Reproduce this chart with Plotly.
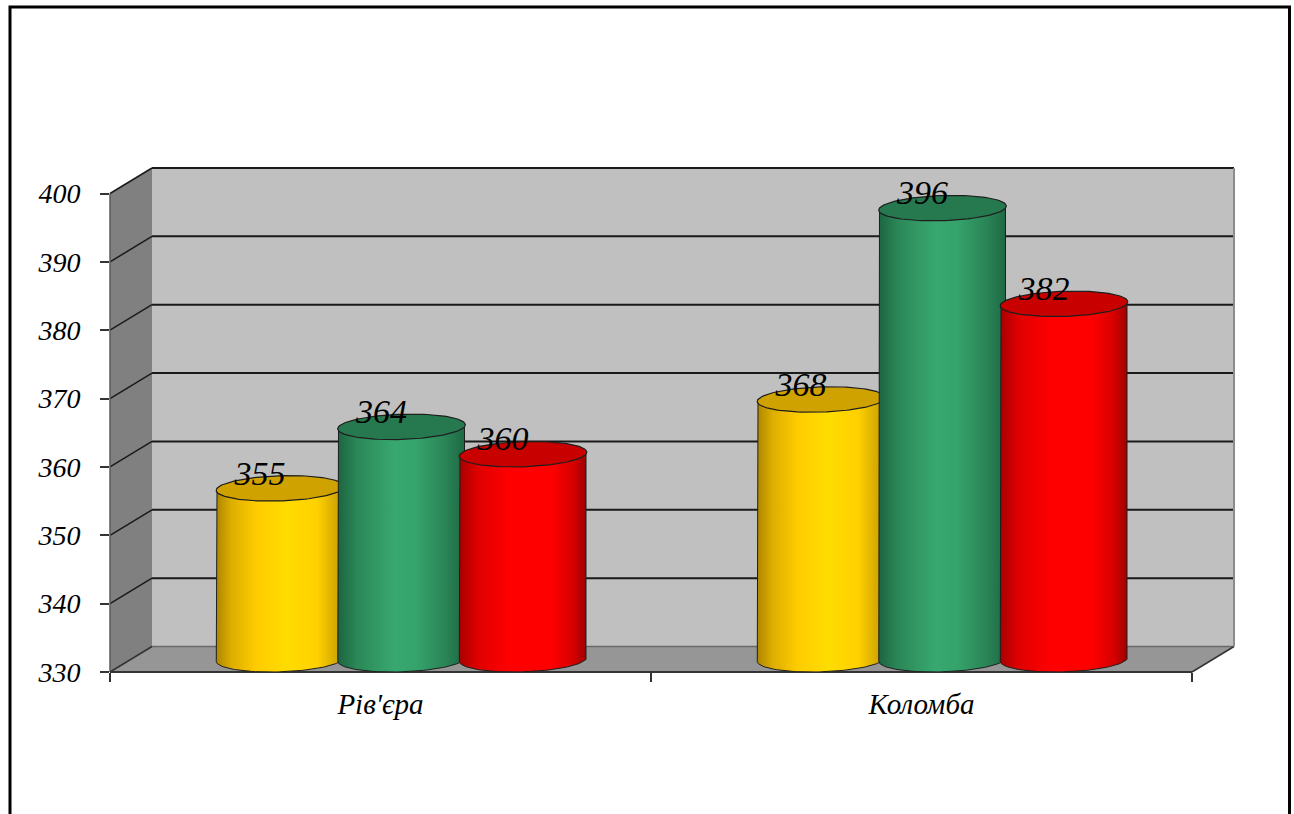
import numpy as np
import plotly.graph_objects as go

# ---------------- data ----------------
categories = ["Рів'єра", "Коломба"]
series_names = ["Ряд 1", "Ряд 2", "Ряд 3"]
values_yellow = [355, 368]
values_green = [364, 396]
values_red = [360, 382]
y_ticks = [330, 340, 350, 360, 370, 380, 390, 400]

# ---------------- geometry / styling ----------------
W, H = 1294, 814
L, R, T, B = 110, 61, 168, 142
plot_w = W - L - R
plot_h = H - T - B
cat_px = 541.0
unit_px = (672 - 193.5) / 70.0
y_min = 330.0
y_max = y_min + plot_h / unit_px
x_min = -0.5
x_max = x_min + plot_w / cat_px
DX = 42 / cat_px          # depth offset in x units
DY = 25.5 / unit_px       # depth offset in y units
SP = 121.5 / cat_px       # spacing between cylinders
BW = 126 / cat_px         # cylinder width
SHEAR = 10 / cat_px

FONT = "Liberation Serif"

def px(xd):
    return (xd - x_min) / (x_max - x_min)

def py(yd):
    return (yd - y_min) / (y_max - y_min)

def path(pts):
    return "M " + " L ".join(f"{px(x):.5f},{py(y):.5f}" for x, y in pts) + " Z"

def line_path(p0, p1):
    return f"M {px(p0[0]):.5f},{py(p0[1]):.5f} L {px(p1[0]):.5f},{py(p1[1]):.5f}"

shapes = []
x_lo, x_hi = -0.5, 1.5
# side wall
shapes.append(dict(type="path", xref="paper", yref="paper", layer="below",
                   path=path([(x_lo, 330), (x_lo + DX, 330 + DY), (x_lo + DX, 400 + DY), (x_lo, 400)]),
                   fillcolor="#808080", line=dict(width=0)))
# back wall
shapes.append(dict(type="path", xref="paper", yref="paper", layer="below",
                   path=path([(x_lo + DX, 330 + DY), (x_hi + DX, 330 + DY), (x_hi + DX, 400 + DY), (x_lo + DX, 400 + DY)]),
                   fillcolor="#C0C0C0", line=dict(width=0)))
# floor
shapes.append(dict(type="path", xref="paper", yref="paper", layer="below",
                   path=path([(x_lo, 330), (x_hi, 330), (x_hi + DX, 330 + DY), (x_lo + DX, 330 + DY)]),
                   fillcolor="#969696", line=dict(width=0)))
# gridlines
for v in y_ticks[1:]:
    shapes.append(dict(type="path", xref="paper", yref="paper", layer="below",
                       path=line_path((x_lo + DX, v + DY), (x_hi + DX, v + DY)),
                       line=dict(color="#1a1a1a", width=2)))
    shapes.append(dict(type="path", xref="paper", yref="paper", layer="below",
                       path=line_path((x_lo, v), (x_lo + DX, v + DY)),
                       line=dict(color="#1a1a1a", width=1.5)))
# edges
edge_specs = [
    (((x_lo + DX, 330 + DY), (x_hi + DX, 330 + DY)), "#6a6a6a", 1.5),
    (((x_hi, 330), (x_hi + DX, 330 + DY)), "#333333", 1.5),
    (((x_lo, 330), (x_lo + DX, 330 + DY)), "#333333", 1.5),
    (((x_hi + DX, 330 + DY), (x_hi + DX, 400 + DY)), "#8c8c8c", 2),
    (((x_lo, 330), (x_lo, 400)), "#5a5a5a", 1.5),
    (((x_lo, 330), (x_hi, 330)), "#333333", 2),
]
for (p0, p1), col, wd in edge_specs:
    shapes.append(dict(type="path", xref="paper", yref="paper", layer="below",
                       path=line_path(p0, p1), line=dict(color=col, width=wd)))
# outer frame
shapes.append(dict(type="rect", xref="paper", yref="paper", layer="above",
                   x0=(10 - L) / plot_w, x1=(1289.5 - L) / plot_w,
                   y0=(T + plot_h - 7) / plot_h, y1=(T + plot_h - 840) / plot_h,
                   line=dict(color="black", width=3), fillcolor="rgba(0,0,0,0)"))

series = [
    (series_names[0], values_yellow,
     [[0, "#AE8600"], [0.12, "#DDAE00"], [0.32, "#FFCC00"], [0.55, "#FFDC00"], [0.8, "#FFD000"], [1, "#C49A00"]],
     "#D0A200", "#FFD200"),
    (series_names[1], values_green,
     [[0, "#1C6440"], [0.15, "#2B8757"], [0.45, "#38A870"], [0.62, "#35A36B"], [0.85, "#2A8456"], [1, "#1E6943"]],
     "#26794F", "#34A06A"),
    (series_names[2], values_red,
     [[0, "#A80000"], [0.15, "#E00000"], [0.4, "#FF0000"], [0.72, "#FF0000"], [0.9, "#D60000"], [1, "#9C0000"]],
     "#C80000", "#FF0000"),
]

fig = go.Figure()
base = 330 + DY / 2
b = DY / 2
a = BW / 2
x_idx = np.arange(len(categories))

# bars (bodies) through the library's bar mechanism
for j, (name, vals, cs, topc, midc) in enumerate(series):
    off = DX / 2 + (j - 1) * SP - BW / 2
    fig.add_trace(go.Bar(
        x=x_idx, y=[v - 330 for v in vals], base=base, width=BW, offset=off,
        name=name, marker=dict(color=midc, line=dict(width=0)),
        customdata=vals, hovertemplate="%{customdata}<extra>" + name + "</extra>",
        showlegend=False))

t_bot = np.linspace(np.pi, 2 * np.pi, 60)
t_all = np.linspace(0, 2 * np.pi, 120)
for j, (name, vals, cs, topc, midc) in enumerate(series):
    for c, v in enumerate(vals):
        cx = c + DX / 2 + (j - 1) * SP
        top = v + DY / 2
        xs = [cx - a, cx - a] + list(cx + a * np.cos(t_bot) + SHEAR * np.sin(t_bot)) + [cx + a, cx - a]
        ys = [top, base] + list(base + b * np.sin(t_bot)) + [top, top]
        fig.add_trace(go.Scatter(
            x=xs, y=ys, mode="lines", fill="toself",
            fillgradient=dict(type="horizontal", colorscale=cs),
            line=dict(color="#1e1e1e", width=1), hoverinfo="skip", showlegend=False))
        ex = cx + a * np.cos(t_all) + SHEAR * np.sin(t_all)
        ey = top + b * np.sin(t_all)
        fig.add_trace(go.Scatter(
            x=ex, y=ey, mode="lines", fill="toself", fillcolor=topc,
            line=dict(color="#1e1e1e", width=1.2), hoverinfo="skip", showlegend=False))

# value labels
lab_x, lab_y, lab_t = [], [], []
for j, (name, vals, cs, topc, midc) in enumerate(series):
    for c, v in enumerate(vals):
        cx = c + DX / 2 + (j - 1) * SP
        lab_x.append(cx - 20 / cat_px)
        lab_y.append(v + 25 / unit_px)
        lab_t.append(str(v))
fig.add_trace(go.Scatter(
    x=lab_x, y=lab_y, text=lab_t, mode="text", textposition="middle center",
    textfont=dict(family=FONT, size=34, color="black", style="italic"),
    hoverinfo="skip", showlegend=False, cliponaxis=False))

fig.update_layout(
    width=W, height=H,
    margin=dict(l=L, r=R, t=T, b=B, pad=0),
    paper_bgcolor="white", plot_bgcolor="rgba(0,0,0,0)",
    barmode="overlay", showlegend=False,
    shapes=shapes,
    xaxis=dict(range=[x_min, x_max], tickmode="array", tickvals=list(x_idx), ticktext=categories,
               ticks="", showgrid=False, zeroline=False, showline=False,
               tickfont=dict(family=FONT, size=29, color="black", style="italic"),
               ticklabelstandoff=12,
               minor=dict(tickmode="array", tickvals=[-0.5, 0.5, 1.5], ticks="outside", ticklen=9,
                          tickcolor="#333333", tickwidth=1.5, showgrid=False),
               fixedrange=True),
    yaxis=dict(range=[y_min, y_max], tickmode="array", tickvals=y_ticks,
               ticks="outside", ticklen=9, tickcolor="#333333", tickwidth=1.5,
               showgrid=False, zeroline=False, showline=False,
               tickfont=dict(family=FONT, size=28, color="black", style="italic"),
               ticklabelstandoff=14, fixedrange=True),
)

fig.write_html("out.html")
